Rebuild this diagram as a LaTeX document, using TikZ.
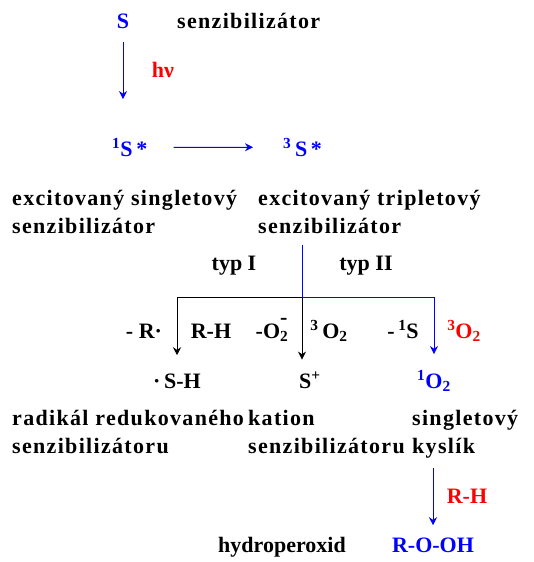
\documentclass[tikz,border=0pt]{standalone}
\usepackage{fontspec}
\setmainfont{Liberation Serif}
\newfontfamily\widefont{Liberation Serif}[LetterSpace=6]
\usetikzlibrary{arrows.meta}

\begin{document}
\begin{tikzpicture}[x=1pt,y=-1pt,
  lbl/.style={inner sep=0pt,anchor=base,font=\fontsize{22}{28}\selectfont\bfseries},
  desc/.style={lbl,anchor=base west,align=left,font=\widefont\fontsize{22}{28}\selectfont\bfseries},
  arr/.style={-{Stealth[length=8pt,width=8pt]},line width=1pt},
  barr/.style={arr,blue}]
  \useasboundingbox (0,0) rectangle (533,562);

  % sensitizer and its excited states
  \node[lbl,blue] (sens) at (123,28) {S};
  \node[desc] (senslab) at (177,28) {senzibilizátor};
  \node[lbl,red] (hv) at (163,77) {hν};
  \node[lbl,blue,anchor=base west] (sing) at (112,156) {\textsuperscript{1}S\,*};
  \node[lbl,blue,anchor=base west] (trip) at (283,156) {\textsuperscript{3}\,S\,*};
  \draw[barr,shorten <=14pt,shorten >=39pt] (sens.south) -- (sens.south |- sing.north);
  \draw[barr,shorten <=26pt,shorten >=30pt] (sing.east) -- (trip.west);
  % base of a two-line node = its last line
  \node[desc] (singlab) at (12,233) {excitovaný singletový\\senzibilizátor};
  \node[desc] (triplab) at (258,233) {excitovaný tripletový\\senzibilizátor};

  % type I / type II branching
  \coordinate (split) at (302,297);
  \node[lbl] (typ1) at (234,270) {typ I};
  \node[lbl] (typ2) at (366,270) {typ II};
  \node[lbl] (rdot) at (144,338) {- R·};
  \node[lbl] (rh1) at (211,338) {R-H};
  \node[lbl] (superox) at (272,338) {-O\rlap{\raisebox{0.62em}{-}}\textsubscript{2}};
  \node[lbl] (tripox) at (329,338) {\textsuperscript{3}\,O\textsubscript{2}};
  \node[lbl] (minus1s) at (403,338) {-\,\textsuperscript{1}S};
  \node[lbl,red] (tripox2) at (464,338) {\textsuperscript{3}O\textsubscript{2}};
  \node[lbl] (sh) at (177,388) {·\,S-H};
  \node[lbl] (splus) at (310,388) {S\textsuperscript{+}};
  \node[lbl,blue] (singox) at (434,388) {\textsuperscript{1}O\textsubscript{2}};
  \draw[line width=1pt,blue,shorten <=12pt] (triplab.south -| split) -- (split);
  \draw[arr,shorten >=18pt] (split) -| (sh.north);
  \draw[arr,shorten >=12pt] (split) -- (split |- splus.north);
  \draw[barr,shorten >=16pt] (split) -| (singox.north);

  % products
  \node[desc] (radlab) at (12,453) {radikál redukovaného\\senzibilizátoru};
  \node[desc] (katlab) at (248,453) {kation\\senzibilizátoru};
  \node[desc] (kyslab) at (412,453) {singletový\\kyslík};
  \node[lbl,red] (rh2) at (467,503) {R-H};
  \node[lbl] (hydro) at (282,552) {hydroperoxid};
  \node[lbl,blue] (rooh) at (433,552) {R-O-OH};
  \draw[barr,shorten <=10pt,shorten >=12pt] (rooh.north |- kyslab.south) -- (rooh.north);
\end{tikzpicture}
\end{document}
